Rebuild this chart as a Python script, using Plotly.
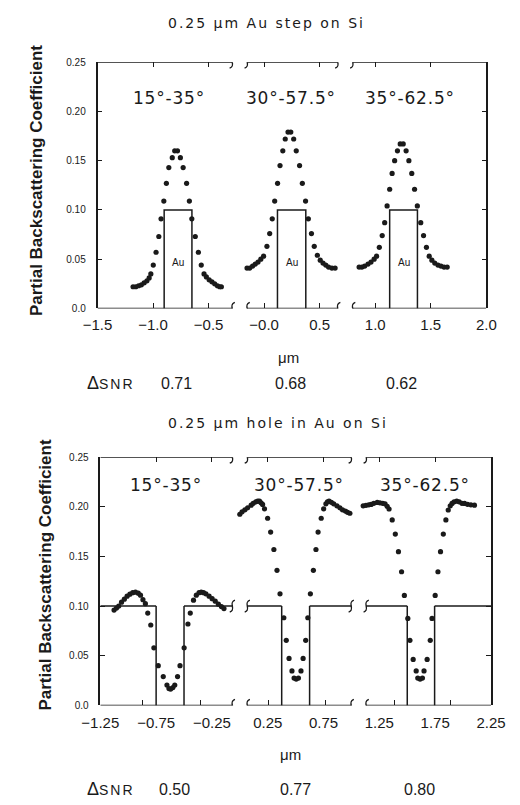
import plotly.graph_objects as go

# ---------------- data ----------------
ANGLE_RANGES = ["15°-35°", "30°-57.5°", "35°-62.5°"]
SNR_STEP = [0.71, 0.68, 0.62]
SNR_HOLE = [0.50, 0.77, 0.80]

# 0.25 um Au step on Si: partial backscattering coefficient vs position (um)
STEP_A_X = [-1.180, -1.155, -1.130, -1.105, -1.080, -1.055, -1.035, -1.020, -0.998, -0.973,
            -0.948, -0.928, -0.903, -0.880, -0.858, -0.827, -0.805, -0.780, -0.754, -0.729,
            -0.698, -0.673, -0.651, -0.620, -0.592, -0.566, -0.541, -0.520, -0.495, -0.470,
            -0.445, -0.420, -0.400, -0.385]
STEP_A_Y = [0.022, 0.022, 0.023, 0.024, 0.026, 0.028, 0.031, 0.035, 0.044, 0.057,
            0.073, 0.091, 0.109, 0.127, 0.143, 0.153, 0.160, 0.160, 0.153, 0.143,
            0.127, 0.109, 0.091, 0.073, 0.057, 0.044, 0.035, 0.032, 0.029, 0.027,
            0.025, 0.023, 0.022, 0.022]

STEP_B_X = [-0.154, -0.130, -0.104, -0.080, -0.055, -0.030, -0.005, 0.025, 0.050, 0.073,
            0.095, 0.121, 0.143, 0.168, 0.190, 0.215, 0.240, 0.266, 0.289, 0.319,
            0.344, 0.373, 0.398, 0.426, 0.451, 0.479, 0.505, 0.530, 0.555, 0.580,
            0.610, 0.639]
STEP_B_Y = [0.041, 0.041, 0.043, 0.045, 0.047, 0.050, 0.053, 0.063, 0.076, 0.091,
            0.109, 0.127, 0.145, 0.160, 0.172, 0.179, 0.179, 0.172, 0.160, 0.145,
            0.127, 0.109, 0.091, 0.076, 0.063, 0.054, 0.049, 0.046, 0.044, 0.042,
            0.041, 0.041]

STEP_C_X = [0.855, 0.880, 0.905, 0.935, 0.962, 0.990, 1.012, 1.037, 1.063, 1.085,
            1.107, 1.130, 1.152, 1.175, 1.200, 1.225, 1.252, 1.278, 1.303, 1.329,
            1.354, 1.379, 1.410, 1.435, 1.461, 1.486, 1.510, 1.536, 1.565, 1.592,
            1.620, 1.648]
STEP_C_Y = [0.042, 0.042, 0.043, 0.045, 0.047, 0.050, 0.053, 0.062, 0.074, 0.087,
            0.104, 0.121, 0.137, 0.150, 0.160, 0.167, 0.167, 0.160, 0.150, 0.137,
            0.121, 0.104, 0.087, 0.074, 0.062, 0.053, 0.049, 0.046, 0.044, 0.043,
            0.042, 0.042]

# 0.25 um hole in Au on Si
HOLE_A_X = [-1.127, -1.105, -1.085, -1.060, -1.035, -1.010, -0.985, -0.960, -0.935, -0.910,
            -0.890, -0.868, -0.846, -0.825, -0.798, -0.770, -0.731, -0.686, -0.653, -0.635,
            -0.620, -0.600, -0.583, -0.558, -0.536, -0.499, -0.465, -0.444, -0.415, -0.390,
            -0.365, -0.346, -0.325, -0.304, -0.275, -0.248, -0.220, -0.192, -0.165, -0.142]
HOLE_A_Y = [0.096, 0.098, 0.100, 0.104, 0.107, 0.110, 0.112, 0.1135, 0.114, 0.113,
            0.111, 0.1065, 0.1025, 0.093, 0.081, 0.058, 0.040, 0.029, 0.0205, 0.017,
            0.0165, 0.018, 0.0205, 0.029, 0.040, 0.058, 0.082, 0.093, 0.106, 0.111,
            0.1135, 0.114, 0.1135, 0.1124, 0.110, 0.1075, 0.105, 0.102, 0.0995, 0.0975]

HOLE_B_X = [0.000, 0.020, 0.045, 0.070, 0.101, 0.120, 0.143, 0.160, 0.176, 0.190,
            0.204, 0.221, 0.249, 0.276, 0.305, 0.333, 0.360, 0.394, 0.416, 0.441,
            0.467, 0.486, 0.505, 0.525, 0.548, 0.567, 0.590, 0.609, 0.632, 0.659,
            0.682, 0.701, 0.729, 0.751, 0.771, 0.785, 0.799, 0.820, 0.841, 0.870,
            0.896, 0.920, 0.946, 0.965, 0.986]
HOLE_B_Y = [0.1925, 0.195, 0.197, 0.199, 0.2017, 0.2035, 0.205, 0.2057, 0.2057, 0.204,
            0.2024, 0.198, 0.1885, 0.1746, 0.157, 0.136, 0.1124, 0.0883, 0.0655, 0.0473,
            0.0347, 0.0275, 0.0265, 0.0275, 0.0347, 0.0473, 0.0655, 0.0883, 0.1124, 0.136,
            0.157, 0.1746, 0.1885, 0.198, 0.203, 0.205, 0.2057, 0.2045, 0.203, 0.201,
            0.199, 0.197, 0.1957, 0.1945, 0.1935]

HOLE_C_X = [1.105, 1.130, 1.155, 1.176, 1.200, 1.231, 1.255, 1.280, 1.301, 1.320,
            1.337, 1.365, 1.393, 1.421, 1.449, 1.474, 1.505, 1.524, 1.553, 1.580,
            1.594, 1.615, 1.636, 1.650, 1.678, 1.706, 1.722, 1.750, 1.775, 1.798,
            1.823, 1.846, 1.867, 1.885, 1.901, 1.920, 1.943, 1.965, 1.990, 2.013,
            2.040, 2.070, 2.102]
HOLE_C_Y = [0.201, 0.2015, 0.202, 0.2024, 0.2035, 0.2044, 0.204, 0.2035, 0.203, 0.2005,
            0.1978, 0.1868, 0.1726, 0.1548, 0.1346, 0.1108, 0.0876, 0.0655, 0.0463, 0.0347,
            0.0275, 0.0265, 0.0275, 0.0347, 0.0463, 0.0655, 0.0876, 0.1108, 0.1346, 0.1548,
            0.1726, 0.1868, 0.1968, 0.201, 0.2034, 0.205, 0.2057, 0.205, 0.2035, 0.2034,
            0.2025, 0.202, 0.2017]

# feature outlines (um) and the Au surface level
STEP_EDGES = [(-0.90, -0.65), (0.12, 0.375), (1.13, 1.38)]
HOLE_EDGES = [(-0.75, -0.50), (0.375, 0.625), (1.50, 1.745)]
AU_LEVEL = 0.10

# axes
STEP_X_TICKS = [-1.5, -1.0, -0.5, 0.0, 0.5, 1.0, 1.5, 2.0]
STEP_X_LABELS = ["\u22121.5", "\u22121.0", "\u22120.5", "\u22120.0", "0.5", "1.0", "1.5", "2.0"]
HOLE_X_TICKS = [-1.25, -0.75, -0.25, 0.25, 0.75, 1.25, 1.75, 2.25]
HOLE_X_LABELS = ["\u22121.25", "\u22120.75", "\u22120.25", "0.25", "0.75", "1.25", "1.75", "2.25"]
HOLE_TICK_MARKS = [-0.87, -0.35, 0.26, 0.765, 1.385, 1.885]
Y_TICKS = [0.0, 0.05, 0.10, 0.15, 0.20, 0.25]
Y_LABELS = ["0.0", "0.05", "0.10", "0.15", "0.20", "0.25"]
STEP_BREAKS = [-0.22, 0.73]
HOLE_BREAKS = [0.0, 1.065]

# ---------------- layout geometry ----------------
W, H = 520, 805
INK = "#1a1a1a"
SANS = "Liberation Sans, Arial, sans-serif"
ROUND = "DejaVu Sans, sans-serif"


def paper(xp, yp):
    return xp / W, 1 - yp / H


TOP_BOX = (84, 500, 57, 307)     # left, right, top, bottom in px
BOT_BOX = (87, 505, 458, 710)
STEP_RANGE = [-1.5, 2.0]
HOLE_RANGE = [-1.25, 2.25]
Y_RANGE = [0.0, 0.25]
GAP_PX = 8
SQUIGGLE = "M -2.6,-6 C 4.6,-3.5 -4.6,3.5 2.6,6"


def dom_x(box):
    return [box[0] / W, box[1] / W]


def dom_y(box):
    return [1 - box[3] / H, 1 - box[2] / H]


fig = go.Figure()

dot = dict(size=5.2, color=INK, line=dict(width=0))


def add_dots(xs, ys, xa, ya):
    fig.add_trace(go.Scatter(x=xs, y=ys, mode="markers", marker=dot,
                             xaxis=xa, yaxis=ya, hoverinfo="skip"))


# Au step outlines
sx, sy = [], []
for l, r in STEP_EDGES:
    sx += [l, l, r, r, None]
    sy += [0, AU_LEVEL, AU_LEVEL, 0, None]
fig.add_trace(go.Scatter(x=sx, y=sy, mode="lines", line=dict(color=INK, width=1.5),
                         xaxis="x", yaxis="y", hoverinfo="skip"))

for xs, ys in [(STEP_A_X, STEP_A_Y), (STEP_B_X, STEP_B_Y), (STEP_C_X, STEP_C_Y)]:
    add_dots(xs, ys, "x", "y")

# Au surface with holes (broken at the axis breaks)
hole_scale = (HOLE_RANGE[1] - HOLE_RANGE[0]) / (BOT_BOX[1] - BOT_BOX[0])
step_scale = (STEP_RANGE[1] - STEP_RANGE[0]) / (TOP_BOX[1] - TOP_BOX[0])
hole_gap = GAP_PX * hole_scale
step_gap = GAP_PX * step_scale

cuts = sorted(list(HOLE_EDGES) + [(b - hole_gap, b + hole_gap) for b in HOLE_BREAKS])
hx, hy = [], []
start = HOLE_RANGE[0]
for a, b in cuts:
    hx += [start, a, None]
    hy += [AU_LEVEL, AU_LEVEL, None]
    start = b
hx += [start, HOLE_RANGE[1], None]
hy += [AU_LEVEL, AU_LEVEL, None]
for l, r in HOLE_EDGES:
    hx += [l, l, None, r, r, None]
    hy += [0, AU_LEVEL, None, 0, AU_LEVEL, None]
fig.add_trace(go.Scatter(x=hx, y=hy, mode="lines", line=dict(color=INK, width=1.5),
                         xaxis="x2", yaxis="y2", hoverinfo="skip"))

for xs, ys in [(HOLE_A_X, HOLE_A_Y), (HOLE_B_X, HOLE_B_Y), (HOLE_C_X, HOLE_C_Y)]:
    add_dots(xs, ys, "x2", "y2")

# empty traces so that the tick-only overlay axes are rendered
for xa in ("x3", "x4"):
    fig.add_trace(go.Scatter(x=[], y=[], xaxis=xa, yaxis="y2", hoverinfo="skip"))

# ---------------- frames with axis breaks ----------------
shapes = []


def squiggles(xref, yref, level, breaks, gap):
    for b in breaks:
        for side in (-1, 1):
            shapes.append(dict(type="path", xref=xref, yref=yref,
                               xsizemode="pixel", ysizemode="pixel",
                               xanchor=b + side * gap, yanchor=level,
                               path=SQUIGGLE,
                               line=dict(color=INK, width=1.4), layer="above"))


def broken_hline(xref, yref, lo, hi, level, breaks, gap):
    pts = [lo]
    for b in breaks:
        pts += [b - gap, b + gap]
    pts.append(hi)
    for a, b in zip(pts[::2], pts[1::2]):
        shapes.append(dict(type="line", xref=xref, yref=yref, x0=a, x1=b, y0=level, y1=level,
                           line=dict(color=INK, width=1.5), layer="above"))
    squiggles(xref, yref, level, breaks, gap)


for lvl in (Y_RANGE[0], Y_RANGE[1]):
    broken_hline("x", "y", STEP_RANGE[0], STEP_RANGE[1], lvl, STEP_BREAKS, step_gap)
    broken_hline("x2", "y2", HOLE_RANGE[0], HOLE_RANGE[1], lvl, HOLE_BREAKS, hole_gap)
squiggles("x2", "y2", AU_LEVEL, HOLE_BREAKS, hole_gap)

# ---------------- axes ----------------
tick_common = dict(ticks="inside", ticklen=5, tickwidth=1.2, tickcolor=INK,
                   showgrid=False, zeroline=False, fixedrange=True)

y_common = dict(range=Y_RANGE, tickmode="array", tickvals=Y_TICKS, ticktext=Y_LABELS,
                showline=True, linewidth=1.5, linecolor=INK, mirror="ticks",
                tickfont=dict(family=SANS, size=10, color=INK), ticklabelstandoff=8,
                **tick_common)

x_font = dict(family=SANS, size=15, color=INK)

layout_axes = dict(
    xaxis=dict(domain=dom_x(TOP_BOX), anchor="y", range=STEP_RANGE, tickmode="array",
               tickvals=STEP_X_TICKS, ticktext=STEP_X_LABELS, showline=False, mirror="ticks",
               tickfont=x_font, ticklabelstandoff=6, **tick_common),
    yaxis=dict(domain=dom_y(TOP_BOX), anchor="x", **y_common),
    xaxis2=dict(domain=dom_x(BOT_BOX), anchor="y2", range=HOLE_RANGE, tickmode="array",
                tickvals=HOLE_X_TICKS, ticktext=HOLE_X_LABELS, showline=False, ticks="",
                showgrid=False, zeroline=False, ticklabelstandoff=7, tickfont=x_font),
    xaxis3=dict(overlaying="x2", anchor="y2", side="bottom", range=HOLE_RANGE,
                tickmode="array", tickvals=HOLE_TICK_MARKS, showticklabels=False,
                showline=False, **tick_common),
    xaxis4=dict(overlaying="x2", anchor="y2", side="top", range=HOLE_RANGE,
                tickmode="array", tickvals=HOLE_X_TICKS, showticklabels=False,
                showline=False, **tick_common),
    yaxis2=dict(domain=dom_y(BOT_BOX), anchor="x2", **y_common),
)

# ---------------- text ----------------
ann = []


def label(text, xp, yp, size, family=SANS, xanchor="center", angle=0, color=INK):
    x, y = paper(xp, yp)
    ann.append(dict(text=text, x=x, y=y, xref="paper", yref="paper", xanchor=xanchor,
                    yanchor="middle", showarrow=False, textangle=angle,
                    font=dict(family=family, size=size, color=color)))


def spaced(text, ls):
    return f'<span style="letter-spacing:{ls}px">{text}</span>'


label(spaced("0.25 μm Au step on Si", 2.0), 265, 17, 14, ROUND)
label(spaced("0.25 μm hole in Au on Si", 2.0), 277, 423, 14, ROUND)

for txt, xp in zip(ANGLE_RANGES, [160, 291, 418]):
    label(spaced(txt, 0.8), xp, 93, 17, ROUND)
for txt, xp in zip(ANGLE_RANGES, [157, 300, 434]):
    label(spaced(txt, 0.8), xp, 486, 17, ROUND)

# "Au" inside each step
for l, r in STEP_EDGES:
    ann.append(dict(text="Au", x=(l + r) / 2, y=0.047, xref="x", yref="y", showarrow=False,
                    font=dict(family=SANS, size=10, color=INK)))

label("μm", 288, 357, 15)
label("μm", 290, 760, 15)

snr_head = '<span style="font-size:18px">Δ</span>' + spaced("SNR", 2)
label(snr_head, 71, 383, 14, xanchor="left")
label(snr_head, 71, 795, 14, xanchor="left")
for v, xp in zip(SNR_STEP, [169, 290, 409]):
    label(f"{v:.2f}", xp, 383, 16)
for v, xp in zip(SNR_HOLE, [166, 296, 428]):
    label(f"{v:.2f}", xp, 795, 16)

label("<b>Partial Backscattering Coefficient</b>", 19, 177, 17, angle=-90)
label("<b>Partial Backscattering Coefficient</b>", 28, 578, 17, angle=-90)

fig.update_layout(
    width=W, height=H, margin=dict(l=0, r=0, t=0, b=0),
    paper_bgcolor="white", plot_bgcolor="white", showlegend=False,
    shapes=shapes, annotations=ann, hovermode=False,
    **layout_axes,
)

fig.write_html("out.html")
